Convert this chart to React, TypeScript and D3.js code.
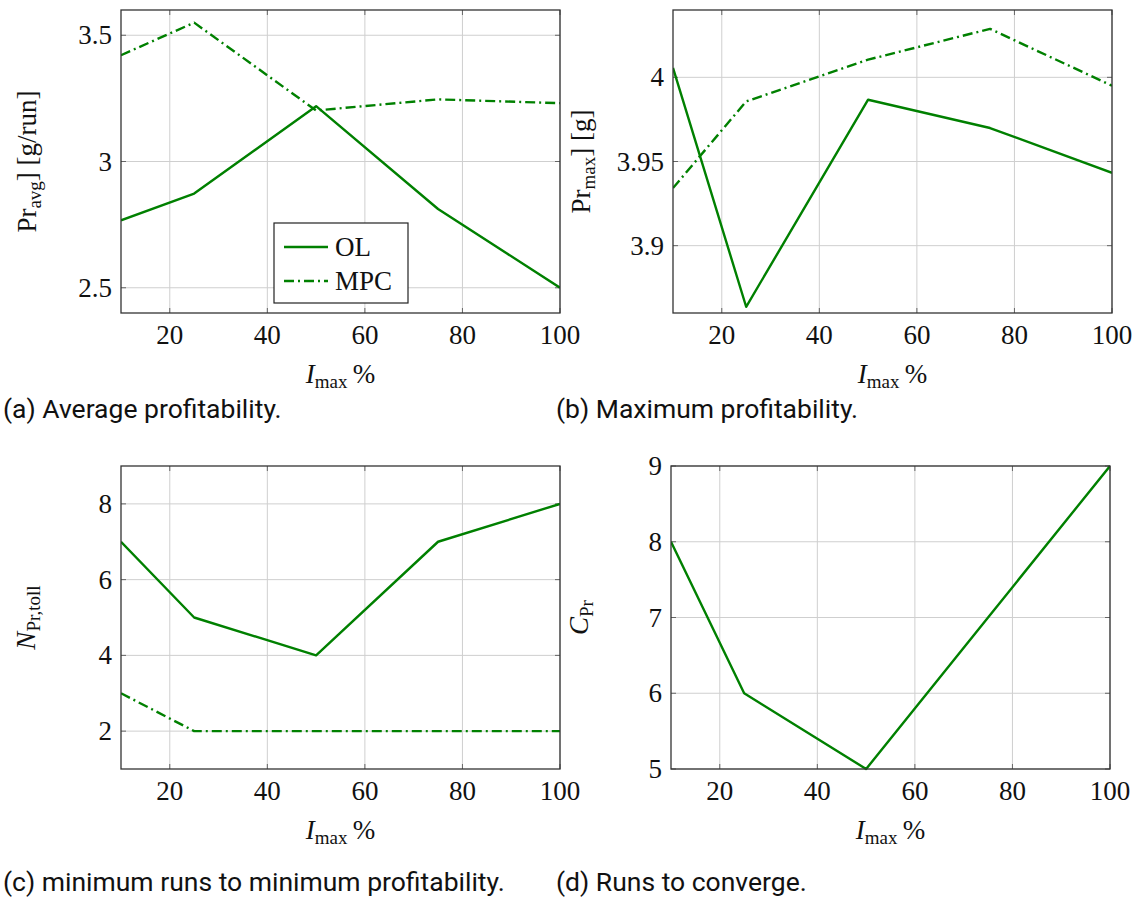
import React from "react";
import * as d3 from "d3";

const xValues = [10, 25, 50, 75, 100];
const xTicks = [20, 40, 60, 80, 100];

const avgOL = [2.767, 2.873, 3.219, 2.812, 2.5];
const avgMPC = [3.421, 3.55, 3.202, 3.246, 3.231];
const avgTicks = [2.5, 3, 3.5];

const maxOL = [4.0056, 3.8637, 3.9867, 3.9699, 3.9433];
const maxMPC = [3.9342, 3.9857, 4.0105, 4.0288, 3.995];
const maxTicks = [3.9, 3.95, 4];

const tollOL = [7, 5, 4, 7, 8];
const tollMPC = [3, 2, 2, 2, 2];
const tollTicks = [2, 4, 6, 8];

const convOL = [8, 6, 5, 7, 9];
const convTicks = [5, 6, 7, 8, 9];

const legendLabels = ["OL", "MPC"];
const captions = [
  "(a) Average profitability.",
  "(b) Maximum profitability.",
  "(c) minimum runs to minimum profitability.",
  "(d) Runs to converge.",
];

const GREEN = "#008000";
const SERIF = "'Liberation Serif', 'DejaVu Serif', serif";
const SANS = "Roboto, 'Noto Sans', sans-serif";
const FS = 27;
const SUB = 19;
const CAP = 26.5;
const DASH = "10,4,2,4";

type Series = { values: number[]; dashed: boolean };

function Panel(props: {
  x0: number; x1: number; y0: number; y1: number;
  yDomain: [number, number];
  yTicks: number[];
  series: Series[];
  yLabel: React.ReactNode;
  yLabelX: number;
  legend?: boolean;
}) {
  const { x0, x1, y0, y1, yDomain, yTicks, series, yLabel, yLabelX, legend } = props;
  const x = d3.scaleLinear().domain([10, 100]).range([x0, x1]);
  const y = d3.scaleLinear().domain(yDomain).range([y1, y0]);
  const line = d3
    .line<number>()
    .x((_, i) => x(xValues[i]))
    .y((v) => y(v));
  const fmt = (v: number) => String(v);
  const tick = 5;
  const clipId = `clip-${x0}-${y0}`;
  return (
    <g>
      <defs>
        <clipPath id={clipId}>
          <rect x={x0} y={y0 - 2} width={x1 - x0} height={y1 - y0 + 4} />
        </clipPath>
      </defs>
      {xTicks.map((t) => (
        <line key={"gx" + t} x1={x(t)} x2={x(t)} y1={y0} y2={y1} stroke="#cfcfcf" strokeWidth={1} />
      ))}
      {yTicks.map((t) => (
        <line key={"gy" + t} x1={x0} x2={x1} y1={y(t)} y2={y(t)} stroke="#cfcfcf" strokeWidth={1} />
      ))}
      {xTicks.map((t) => (
        <g key={"tx" + t}>
          <line x1={x(t)} x2={x(t)} y1={y1} y2={y1 - tick} stroke="#666" strokeWidth={1} />
          <line x1={x(t)} x2={x(t)} y1={y0} y2={y0 + tick} stroke="#666" strokeWidth={1} />
        </g>
      ))}
      {yTicks.map((t) => (
        <g key={"ty" + t}>
          <line x1={x0} x2={x0 + tick} y1={y(t)} y2={y(t)} stroke="#666" strokeWidth={1} />
          <line x1={x1} x2={x1 - tick} y1={y(t)} y2={y(t)} stroke="#666" strokeWidth={1} />
        </g>
      ))}
      <g clipPath={`url(#${clipId})`}>
        {series.map((s, i) => (
          <path
            key={i}
            d={line(s.values) || ""}
            fill="none"
            stroke={GREEN}
            strokeWidth={2.4}
            strokeDasharray={s.dashed ? DASH : undefined}
            strokeLinejoin="round"
          />
        ))}
      </g>
      <rect x={x0} y={y0} width={x1 - x0} height={y1 - y0} fill="none" stroke="#333" strokeWidth={1.3} />
      {xTicks.map((t) => (
        <text key={"lx" + t} x={x(t)} y={y1 + 31} textAnchor="middle" fontFamily={SERIF} fontSize={FS} fill="#111">
          {fmt(t)}
        </text>
      ))}
      {yTicks.map((t) => (
        <text key={"ly" + t} x={x0 - 9} y={y(t) + 9} textAnchor="end" fontFamily={SERIF} fontSize={FS} fill="#111">
          {fmt(t)}
        </text>
      ))}
      <text x={(x0 + x1) / 2} y={y1 + 70} textAnchor="middle" fontFamily={SERIF} fontSize={FS} fill="#111">
        <tspan fontStyle="italic">I</tspan>
        <tspan fontSize={SUB} dy={5}>max</tspan>
        <tspan dy={-5}>{"\u2009%"}</tspan>
      </text>
      <text
        transform={`translate(${yLabelX},${(y0 + y1) / 2}) rotate(-90)`}
        textAnchor="middle"
        fontFamily={SERIF}
        fontSize={FS}
        fill="#111"
      >
        {yLabel}
      </text>
      {legend && (
        <g>
          <rect x={274} y={223} width={134} height={80} fill="white" stroke="#222" strokeWidth={1.2} />
          {legendLabels.map((lab, i) => (
            <g key={lab}>
              <line
                x1={284}
                x2={328}
                y1={247 + i * 34}
                y2={247 + i * 34}
                stroke={GREEN}
                strokeWidth={2.4}
                strokeDasharray={i === 1 ? DASH : undefined}
              />
              <text x={335} y={256 + i * 34} fontFamily={SERIF} fontSize={FS} fill="#111">
                {lab}
              </text>
            </g>
          ))}
        </g>
      )}
    </g>
  );
}

export default function App() {
  return (
    <svg
      width={1148}
      height={899}
      style={{ position: "absolute", left: 0, top: 0, background: "white" }}
    >
      <rect x={0} y={0} width={1148} height={899} fill="white" />
      <Panel
        x0={121} x1={560} y0={10} y1={313}
        yDomain={[2.4, 3.6]}
        yTicks={avgTicks}
        series={[{ values: avgOL, dashed: false }, { values: avgMPC, dashed: true }]}
        yLabelX={36}
        legend
        yLabel={
          <>
            <tspan>Pr</tspan>
            <tspan fontSize={SUB} dy={5}>avg</tspan>
            <tspan dy={-5}>] [g/run]</tspan>
          </>
        }
      />
      <Panel
        x0={673} x1={1112} y0={10} y1={313}
        yDomain={[3.86, 4.04]}
        yTicks={maxTicks}
        series={[{ values: maxOL, dashed: false }, { values: maxMPC, dashed: true }]}
        yLabelX={590}
        yLabel={
          <>
            <tspan>Pr</tspan>
            <tspan fontSize={SUB} dy={5}>max</tspan>
            <tspan dy={-5}>] [g]</tspan>
          </>
        }
      />
      <Panel
        x0={121} x1={560} y0={466} y1={769}
        yDomain={[1, 9]}
        yTicks={tollTicks}
        series={[{ values: tollOL, dashed: false }, { values: tollMPC, dashed: true }]}
        yLabelX={35}
        yLabel={
          <>
            <tspan fontStyle="italic">N</tspan>
            <tspan fontSize={SUB} dy={5}>Pr,toll</tspan>
          </>
        }
      />
      <Panel
        x0={671} x1={1110} y0={466} y1={769}
        yDomain={[5, 9]}
        yTicks={convTicks}
        series={[{ values: convOL, dashed: false }]}
        yLabelX={588}
        yLabel={
          <>
            <tspan fontStyle="italic">C</tspan>
            <tspan fontSize={SUB} dy={5}>Pr</tspan>
          </>
        }
      />
      <text x={3} y={418} fontFamily={SANS} fontSize={CAP} fill="#111">{captions[0]}</text>
      <text x={556} y={418} fontFamily={SANS} fontSize={CAP} fill="#111">{captions[1]}</text>
      <text x={3} y={891} fontFamily={SANS} fontSize={CAP} fill="#111">{captions[2]}</text>
      <text x={556} y={891} fontFamily={SANS} fontSize={CAP} fill="#111">{captions[3]}</text>
    </svg>
  );
}
